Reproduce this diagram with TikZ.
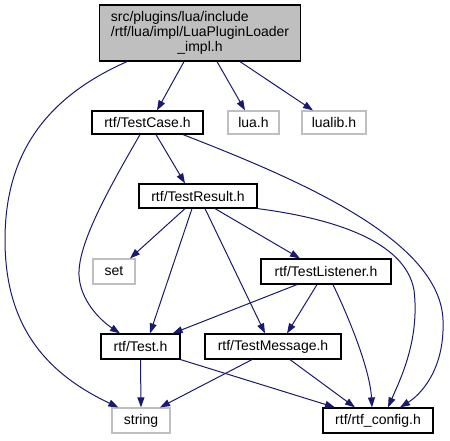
\documentclass[tikz,border=0pt]{standalone}
\usepackage{fontspec}
\setmainfont{Liberation Sans}
\usetikzlibrary{arrows.meta}
\definecolor{edgeblue}{HTML}{191970}
\definecolor{nodegray}{HTML}{BFBFBF}
\tikzstyle{block} = [draw, rectangle, line width=1.2pt, inner sep=0pt, minimum height=24pt, font=\fontsize{14}{15}\selectfont]
\tikzstyle{extern} = [block, draw=nodegray]
\tikzstyle{mainfile} = [block, fill=nodegray]
\tikzstyle{dep} = [->, draw=edgeblue, line width=1pt]

\begin{document}
\begin{tikzpicture}[x=1pt, y=-1pt, >={Triangle[length=10pt,width=7pt]}]
    \useasboundingbox (0,0) rectangle (450,440);
    % Define the nodes
    \node [mainfile, minimum width=201pt, minimum height=56pt] (loader) at (200,33)
        {\begin{tabular}{@{}l@{}}src/plugins/lua/include\\/rtf/lua/impl/LuaPluginLoader\\\multicolumn{1}{@{}c@{}}{\_impl.h}\end{tabular}};
    \node [block, minimum width=111pt, minimum height=23pt] (testcase) at (147.5,122.5) {rtf/TestCase.h};
    \node [extern, minimum width=51pt, minimum height=23pt] (lua) at (253.5,122.5) {lua.h};
    \node [extern, minimum width=64pt, minimum height=23pt] (lualib) at (334,122.5) {lualib.h};
    \node [block, minimum width=118pt] (testresult) at (198,196) {rtf/TestResult.h};
    \node [extern, minimum width=42pt, minimum height=25pt] (set) at (114,271.5) {set};
    \node [block, minimum width=130pt, minimum height=25pt] (testlistener) at (326,271.5) {rtf/TestListener.h};
    \node [block, minimum width=79pt, minimum height=25pt] (test) at (140.5,346.5) {rtf/Test.h};
    \node [block, minimum width=136pt, minimum height=25pt] (testmessage) at (273,346.5) {rtf/TestMessage.h};
    \node [extern, minimum width=58pt, minimum height=25pt] (string) at (141,420.5) {string};
    \node [block, minimum width=110pt, minimum height=25pt] (config) at (378,420.5) {rtf/rtf\_config.h};
    % Connect the nodes
    \draw [dep] ([xshift=-73pt]loader.south) .. controls (40,100) and (5,160) .. (5,240)
        .. controls (5,330) and (50,375) .. ([xshift=7pt]string.north west);
    \draw [dep] ([xshift=-16pt]loader.south) -- ([xshift=9.5pt]testcase.north);
    \draw [dep] ([xshift=17pt]loader.south) -- ([xshift=-8.5pt]lua.north);
    \draw [dep] ([xshift=40pt]loader.south) -- ([xshift=-21pt]lualib.north);
    \draw [dep] ([xshift=-7.5pt]testcase.south) .. controls (105,195) and (78,245) .. (79,275)
        .. controls (80,300) and (100,320) .. ([xshift=-20.5pt]test.north);
    \draw [dep] ([xshift=8.5pt]testcase.south) -- ([xshift=-13pt]testresult.north);
    \draw [dep] ([xshift=35.5pt]testcase.south) .. controls (300,180) and (440,240) .. (443,320)
        .. controls (445,370) and (420,395) .. ([xshift=22pt]config.north);
    \draw [dep] ([xshift=-13pt]testresult.south) -- ([xshift=16pt]set.north);
    \draw [dep] ([xshift=-6pt]testresult.south) -- ([xshift=9.5pt]test.north);
    \draw [dep] ([xshift=7pt]testresult.south) -- ([xshift=-8pt]testmessage.north);
    \draw [dep] ([xshift=17pt]testresult.south) -- ([xshift=-26pt]testlistener.north);
    \draw [dep] (testresult.south east) .. controls (330,218) and (405,240) .. (414,290)
        .. controls (420,340) and (400,380) .. ([xshift=10pt]config.north);
    \draw [dep] ([xshift=-29pt]testlistener.south) -- ([xshift=-8pt]test.north east);
    \draw [dep] ([xshift=-9pt]testlistener.south) -- ([xshift=14pt]testmessage.north);
    \draw [dep] ([xshift=7pt]testlistener.south) .. controls (350,320) and (370,370) .. ([xshift=-6pt]config.north);
    \draw [dep] (test.south) -- (string.north);
    \draw [dep] (test.south east) -- ([xshift=-43pt]config.north);
    \draw [dep] ([xshift=-21pt]testmessage.south) -- ([xshift=19pt]string.north);
    \draw [dep] ([xshift=17pt]testmessage.south) -- ([xshift=-23pt]config.north);
\end{tikzpicture}
\end{document}
